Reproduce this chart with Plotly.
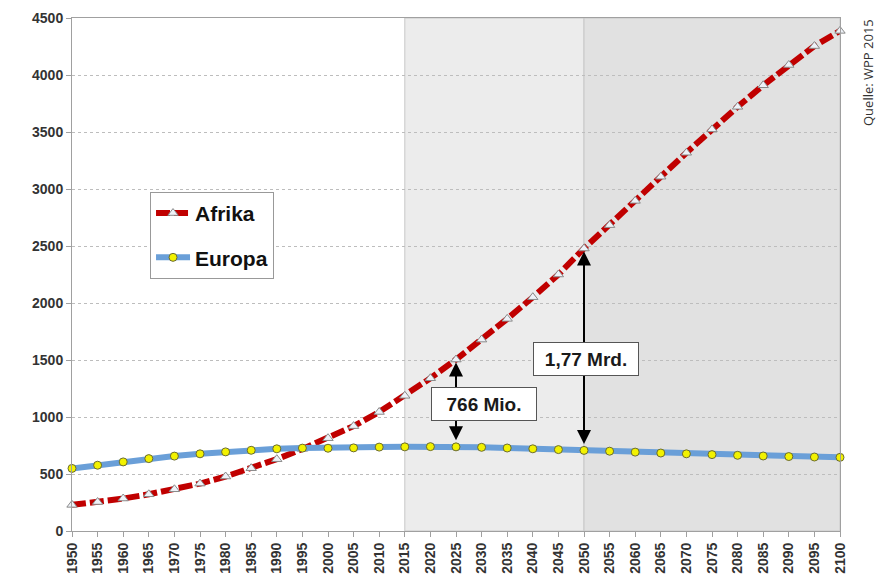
import plotly.graph_objects as go

years = list(range(1950, 2101, 5))
afrika = [229, 254, 285, 322, 366, 416, 478, 551, 630, 720, 814, 920, 1044, 1186,
          1340, 1504, 1679, 1861, 2051, 2250, 2478, 2683, 2896, 3108, 3318, 3523,
          3721, 3910, 4088, 4254, 4387]
europa = [549, 577, 606, 635, 657, 677, 694, 708, 721, 727, 726, 729, 736, 738,
          740, 738, 734, 728, 721, 714, 707, 700, 692, 684, 677, 670, 664, 658,
          653, 649, 646]
y_ticks = [0, 500, 1000, 1500, 2000, 2500, 3000, 3500, 4000, 4500]
diff_years = [2025, 2050]
diff_labels = ["766 Mio.", "1,77 Mrd."]
label_pos = [(2030.4, 1118), (2050.3, 1513)]
shade_periods = [(2015, 2050, "#ececec"), (2050, 2100, "#e1e1e1")]
source = "Quelle: WPP 2015"

fig = go.Figure()

fig.add_trace(go.Scatter(
    x=years, y=afrika, name="Afrika", mode="lines+markers", legendgroup="a",
    line=dict(color="#c00000", width=6, dash="14px,4px"),
    marker=dict(symbol="triangle-up", size=9, color="#eef2f8",
                line=dict(color="#8a8a8a", width=1)),
    cliponaxis=False,
))
fig.add_trace(go.Scatter(
    x=years, y=europa, name="Europa", mode="lines+markers", legendgroup="b",
    line=dict(color="#6a9fd8", width=6),
    marker=dict(symbol="circle", size=8, color="#f2f200",
                line=dict(color="#6b6b30", width=1)),
    cliponaxis=False,
))

for x0, x1, col in shade_periods:
    fig.add_shape(type="rect", xref="x", yref="y", x0=x0, x1=x1, y0=0, y1=4500,
                  fillcolor=col, line=dict(color="#c8c8c8", width=1), layer="below")

annotations = []
for yr, lab, (lx, ly) in zip(diff_years, diff_labels, label_pos):
    i = years.index(yr)
    annotations.append(dict(
        x=yr, y=afrika[i], ax=yr, ay=europa[i], xref="x", yref="y",
        axref="x", ayref="y", text="", showarrow=True, arrowside="end+start",
        arrowhead=2, startarrowhead=2, arrowsize=1.4, startarrowsize=1.4,
        arrowwidth=2, arrowcolor="#000000", standoff=3, startstandoff=5,
    ))
for yr, lab, (lx, ly) in zip(diff_years, diff_labels, label_pos):
    annotations.append(dict(
        x=lx, y=ly, xref="x", yref="y", text="<b>%s</b>" % lab, showarrow=False,
        font=dict(family="Liberation Sans, Arial, sans-serif", size=19, color="#1a1a1a"),
        bgcolor="#ffffff", bordercolor="#555555", borderwidth=1, borderpad=2,
        width=100, height=28,
    ))
annotations.append(dict(
    x=(868 - 72) / 768, y=(531 - 73) / 513, xref="paper", yref="paper",
    xanchor="center", yanchor="middle", text=source, showarrow=False,
    textangle=-90, font=dict(family="Open Sans, sans-serif", size=13, color="#333333"),
))

tickfont = dict(family="Liberation Sans, Arial, sans-serif", size=14, color="#333333",
                weight="bold")

fig.update_layout(
    width=886, height=579,
    margin=dict(l=72, r=46, t=18, b=48),
    paper_bgcolor="#ffffff", plot_bgcolor="#ffffff",
    showlegend=True,
    legend=dict(
        x=0.1016, y=0.661, xanchor="left", yanchor="top",
        bgcolor="#ffffff", bordercolor="#999999", borderwidth=1,
        font=dict(family="Liberation Sans, Arial, sans-serif", size=21, color="#111111",
                  weight="bold"),
        itemwidth=34, tracegroupgap=14,
    ),
    annotations=annotations,
    xaxis=dict(
        range=[1950, 2100], tickmode="array", tickvals=years,
        ticktext=[str(y) for y in years], tickangle=-90, automargin=False,
        showgrid=False, showline=True, linecolor="#a0a0a0", linewidth=1, mirror=True,
        ticks="outside", ticklen=5, tickcolor="#a0a0a0", zeroline=False,
        tickfont=tickfont,
    ),
    yaxis=dict(
        range=[0, 4500], tickmode="array", tickvals=y_ticks, automargin=False,
        showgrid=True, gridcolor="#bdbdbd", griddash="dot", gridwidth=1,
        showline=True, linecolor="#a0a0a0", linewidth=1, mirror=True,
        ticks="outside", ticklen=5, tickcolor="#a0a0a0", zeroline=False,
        tickfont=tickfont,
    ),
)

fig.write_html(
    "out.html",
    config={"displayModeBar": False},
    post_script="document.body.style.margin='0';document.body.style.padding='0';"
                "document.documentElement.style.overflow='hidden';",
)
